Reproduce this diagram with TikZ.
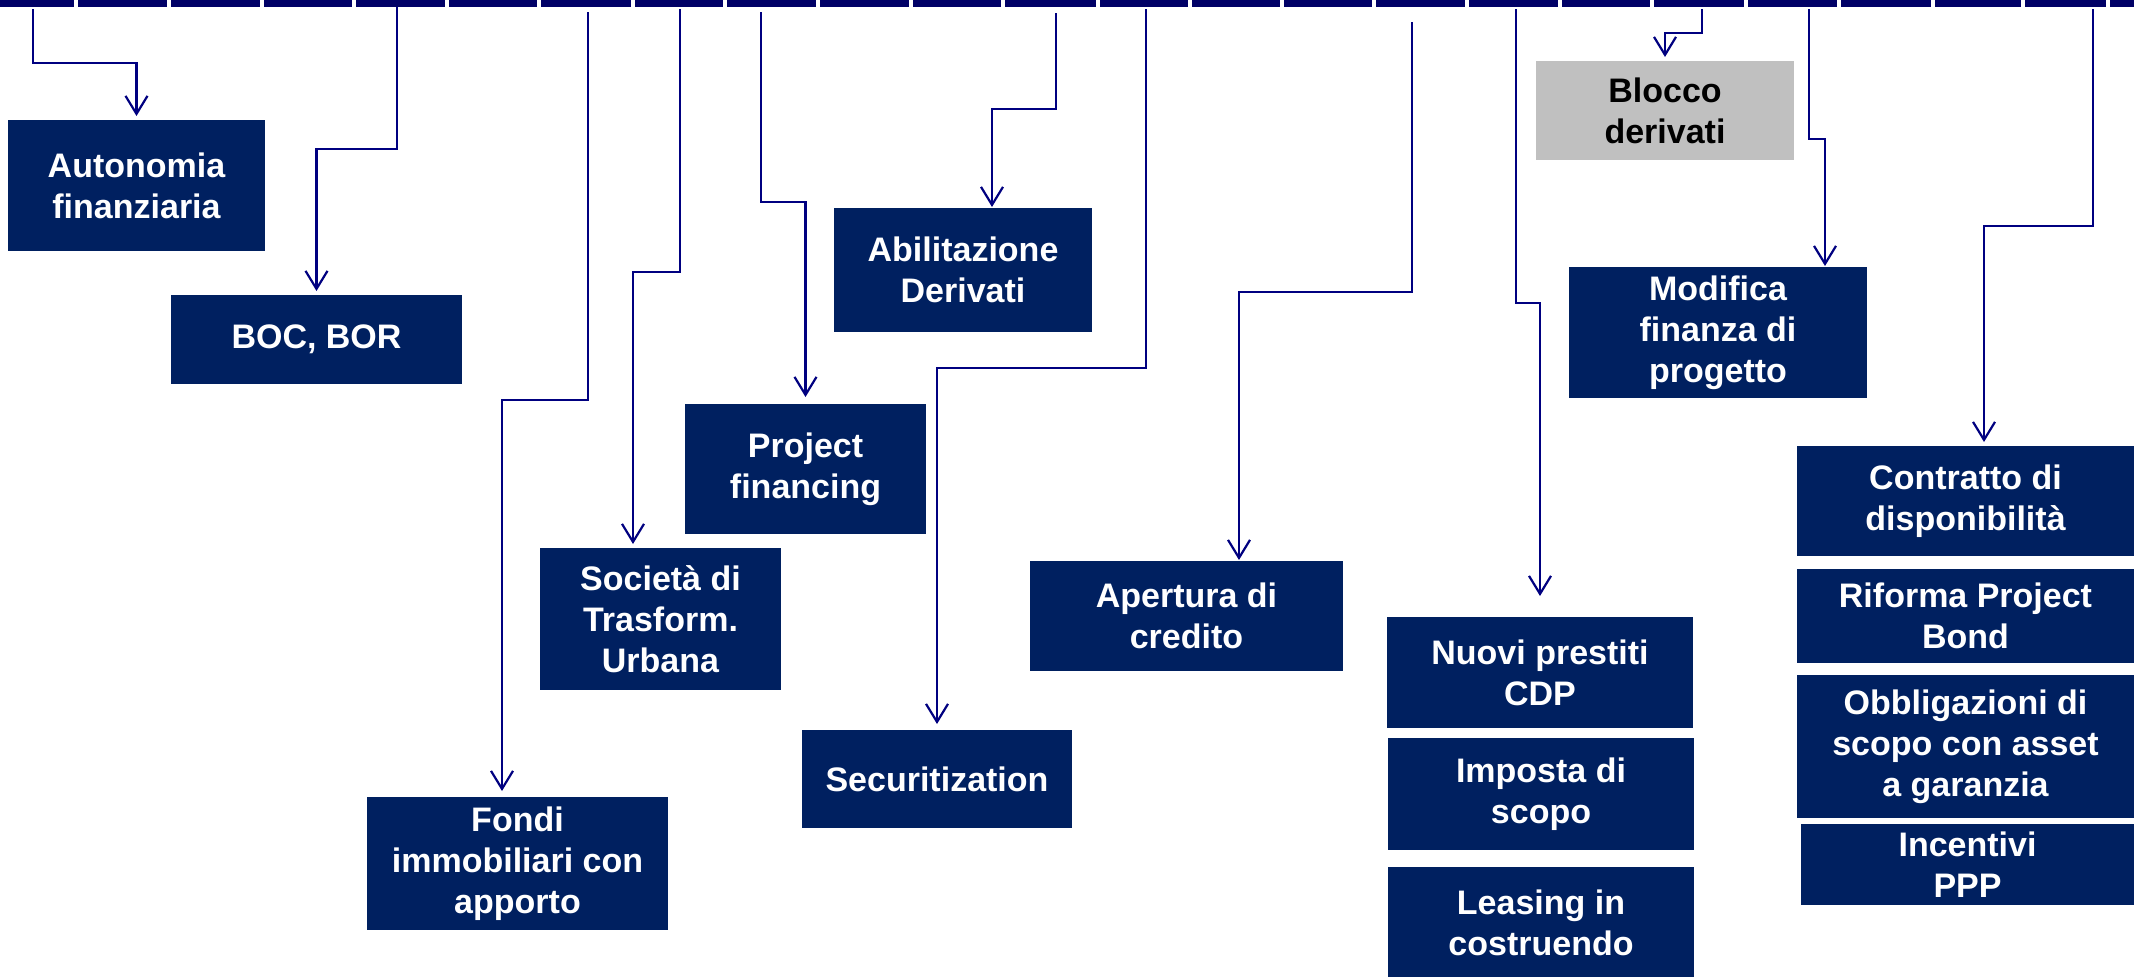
\documentclass[tikz,border=0pt]{standalone}
\usepackage{fontspec}
\setmainfont{Liberation Sans}
\usetikzlibrary{arrows.meta}
\definecolor{barnavy}{HTML}{000066}
\definecolor{linknavy}{HTML}{000080}
\definecolor{boxnavy}{HTML}{002060}
\definecolor{boxgray}{HTML}{C0C0C0}
\begin{document}
\begin{tikzpicture}[x=1pt,y=-1pt,
  card/.style={fill=boxnavy, text=white, font=\fontsize{34}{41}\selectfont\bfseries,
    align=center, inner sep=0pt, outer sep=0pt, anchor=north west},
  graycard/.style={card, fill=boxgray, text=black},
  conn/.style={draw=linknavy, line width=2.2pt,
    -{Straight Barb[length=18pt,width=22pt]}, shorten >=4pt}]

% page frame
\useasboundingbox (0,0) rectangle (2134,977);

% segmented time bar along the top edge
\foreach \a/\b in {0/74,78/167,171/260,264/352,356/445,449/537,541/631,635/723,
  727/816,820/909,913/1001,1005/1096,1100/1188,1192/1280,1284/1372,1376/1465,
  1469/1558,1562/1650,1654/1744,1748/1837,1841/1931,1935/2021,2025/2106,2110/2134}
  \fill[barnavy] (\a,0) rectangle (\b,7);

% measures
\node[card, minimum width=257pt, minimum height=131pt] (auto)  at (8,120)    {Autonomia\\finanziaria};
\node[card, minimum width=291pt, minimum height=89pt]  (boc)   at (171,295)  {BOC, BOR};
\node[card, minimum width=301pt, minimum height=133pt] (fondi) at (367,797)  {Fondi\\immobiliari con\\apporto};
\node[card, minimum width=241pt, minimum height=142pt] (soc)   at (540,548)  {Società di\\Trasform.\\Urbana};
\node[card, minimum width=241pt, minimum height=130pt] (pf)    at (685,404)  {Project\\financing};
\node[card, minimum width=258pt, minimum height=124pt] (abil)  at (834,208)  {Abilitazione\\Derivati};
\node[card, minimum width=270pt, minimum height=98pt]  (sec)   at (802,730)  {Securitization};
\node[card, minimum width=313pt, minimum height=110pt] (aper)  at (1030,561) {Apertura di\\credito};
\node[graycard, minimum width=258pt, minimum height=99pt] (bloc) at (1536,61) {Blocco\\derivati};
\node[card, minimum width=298pt, minimum height=131pt] (modif) at (1569,267) {Modifica\\finanza di\\progetto};
\node[card, minimum width=306pt, minimum height=111pt] (nuovi) at (1387,617) {Nuovi prestiti\\CDP};
\node[card, minimum width=306pt, minimum height=112pt] (imp)   at (1388,738) {Imposta di\\scopo};
\node[card, minimum width=306pt, minimum height=112pt] (leas)  at (1388,867) {Leasing in\\costruendo};
\node[card, minimum width=337pt, minimum height=110pt] (contr) at (1797,446) {Contratto di\\disponibilità};
\node[card, minimum width=337pt, minimum height=94pt]  (rif)   at (1797,569) {Riforma Project\\Bond};
\node[card, minimum width=337pt, minimum height=143pt] (obbl)  at (1797,675) {Obbligazioni di\\scopo con asset\\a garanzia};
\node[card, minimum width=333pt, minimum height=81pt]  (inc)   at (1801,824) {Incentivi\\PPP};

% connector origins just under the bar
\coordinate (s1)  at (33,9);
\coordinate (s2)  at (397,7);
\coordinate (s3)  at (588,12);
\coordinate (s4)  at (680,9);
\coordinate (s5)  at (761,12);
\coordinate (s6)  at (1056,13);
\coordinate (s7)  at (1146,9);
\coordinate (s8)  at (1412,22);
\coordinate (s9)  at (1516,9);
\coordinate (s10) at (1702,9);
\coordinate (s11) at (1809,9);
\coordinate (s12) at (2093,9);

% elbow connectors
\draw[conn] (s1) -- (s1 |- 0,63) -| (auto.north);
\draw[conn] (s2) -- (s2 |- 0,149) -| (boc.north);
\draw[conn, shorten >=6pt] (s3) -- (s3 |- 0,400) -| (fondi.north -| 502,0);
\draw[conn] (s4) -- (s4 |- 0,272) -| (soc.north -| 633,0);
\draw[conn, shorten >=7pt] (s5) -- (s5 |- 0,202) -| (pf.north);
\draw[conn, shorten >=1pt] (s6) -- (s6 |- 0,109) -| (abil.north -| 992,0);
\draw[conn, shorten >=6pt] (s7) -- (s7 |- 0,368) -| (sec.north);
\draw[conn, shorten >=1pt] (s8) -- (s8 |- 0,292) -| (aper.north -| 1239,0);
\draw[conn, shorten >=21pt] (s9) -- (s9 |- 0,303) -| (nuovi.north);
\draw[conn] (s10) -- (s10 |- 0,33) -| (bloc.north);
\draw[conn, shorten >=1pt] (s11) -- (s11 |- 0,139) -| (modif.north -| 1825,0);
\draw[conn] (s12) -- (s12 |- 0,226) -| (contr.north -| 1984,0);
\end{tikzpicture}
\end{document}
